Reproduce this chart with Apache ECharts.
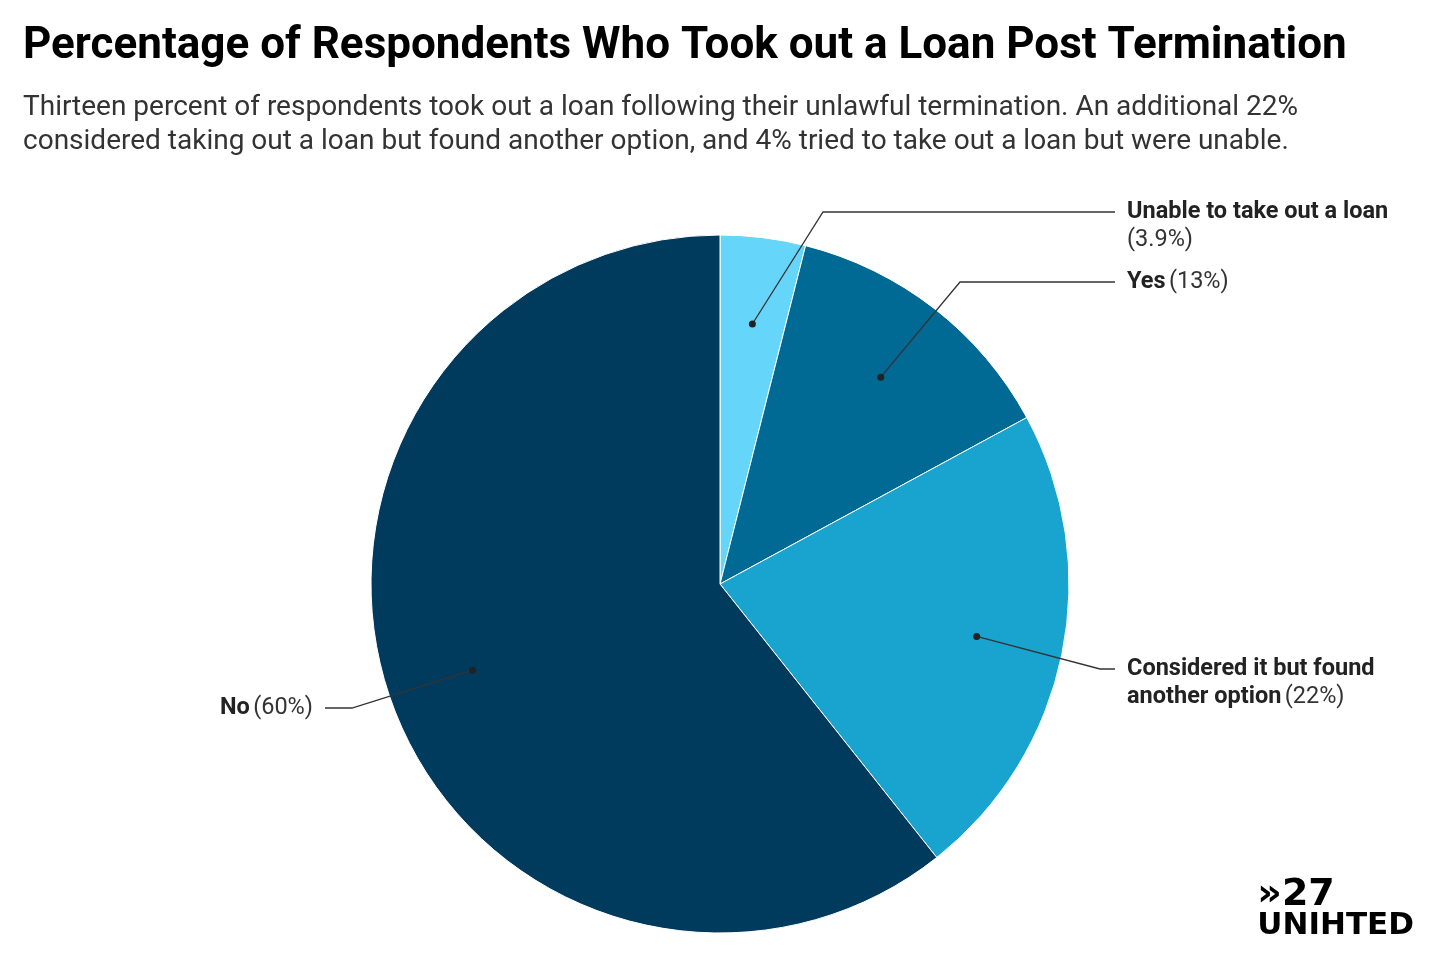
<!DOCTYPE html>
<html>
<head>
<meta charset="utf-8">
<script src="https://cdn.jsdelivr.net/npm/echarts@6/dist/echarts.min.js"></script>
<style>
  html, body { margin: 0; padding: 0; background: #fff; }
  #chart { width: 1440px; height: 967px; }
</style>
</head>
<body>
<div id="chart"></div>
<script>
var names = ['Unable to take out a loan', 'Yes', 'Considered it but found another option', 'No'];
var labelNames = ['Unable to take out a loan', 'Yes', 'Considered it but found\nanother option', 'No'];
var values = [3.9, 13, 22, 60];
var colors = ['#66d5fa', '#006994', '#19a3cf', '#003b5e'];
// leader line: elbow x, horizontal y, end x; label side
var elbowX = [823, 960, 1100, 352];
var lineY = [212, 282, 669, 708];
var endX = [1115, 1115, 1115, 325];

var cx = 720, cy = 584, R = 349, dotR = 262;
var chart = echarts.init(document.getElementById('chart'));

var total = values.reduce(function (a, b) { return a + b; }, 0);
var graphics = [];
var acc = 0;
values.forEach(function (v, i) {
    var mid = (acc + v / 2) / total * Math.PI * 2;
    acc += v;
    var px = cx + dotR * Math.sin(mid), py = cy - dotR * Math.cos(mid);
    graphics.push({
        type: 'polyline', z: 10,
        shape: { points: [[px, py], [elbowX[i], lineY[i]], [endX[i], lineY[i]]] },
        style: { stroke: '#333', lineWidth: 1.3, fill: null }
    });
    graphics.push({ type: 'circle', z: 11, shape: { cx: px, cy: py, r: 3.5 }, style: { fill: '#222' } });
    var right = i < 3;
    var lines = labelNames[i].split('\n');
    var pct = '{n|(' + v + '%)}';
    var txt;
    if (i === 0) txt = '{b|' + lines[0] + '}\n' + pct;
    else if (lines.length > 1) txt = '{b|' + lines[0] + '}\n{b|' + lines[1] + '} ' + pct;
    else txt = '{b|' + lines[0] + '} ' + pct;
    graphics.push({
        type: 'text', z: 12,
        x: right ? 1127 : 313, y: lineY[i] - 14,
        style: {
            text: txt, align: right ? 'left' : 'right', verticalAlign: 'top',
            rich: {
                b: { fontFamily: 'Roboto', fontWeight: 'bold', fontSize: 23.5, fill: '#222', lineHeight: 28 },
                n: { fontFamily: 'Roboto', fontSize: 23.5, fill: '#333', lineHeight: 28 }
            }
        }
    });
});
graphics.push({
    type: 'text', right: 26, bottom: 26,
    style: {
        text: '{a|»27}\n{u|UNIHTED}', align: 'right',
        rich: {
            a: { fontFamily: 'DejaVu Sans', fontWeight: 'bold', fontSize: 38, lineHeight: 32, fill: '#000', align: 'left' },
            u: { fontFamily: 'DejaVu Sans', fontWeight: 'bold', fontSize: 31, lineHeight: 28, fill: '#000' }
        }
    }
});

chart.setOption({
    animation: false,
    title: {
        text: 'Percentage of Respondents Who Took out a Loan Post Termination',
        subtext: 'Thirteen percent of respondents took out a loan following their unlawful termination. An additional 22%\nconsidered taking out a loan but found another option, and 4% tried to take out a loan but were unable.',
        left: 18, top: 20, itemGap: 22,
        textStyle: { fontFamily: 'Roboto', fontWeight: 'bold', fontSize: 44, color: '#000' },
        subtextStyle: { fontFamily: 'Roboto', fontSize: 28, lineHeight: 34, color: '#333' }
    },
    graphic: graphics,
    series: [{
        type: 'pie',
        center: [cx, cy], radius: R,
        startAngle: 90, clockwise: true,
        itemStyle: { borderColor: '#fff', borderWidth: 1 },
        label: { show: false }, labelLine: { show: false },
        silent: true,
        data: names.map(function (n, i) {
            return { name: n, value: values[i], itemStyle: { color: colors[i] } };
        })
    }]
});
</script>
</body>
</html>
